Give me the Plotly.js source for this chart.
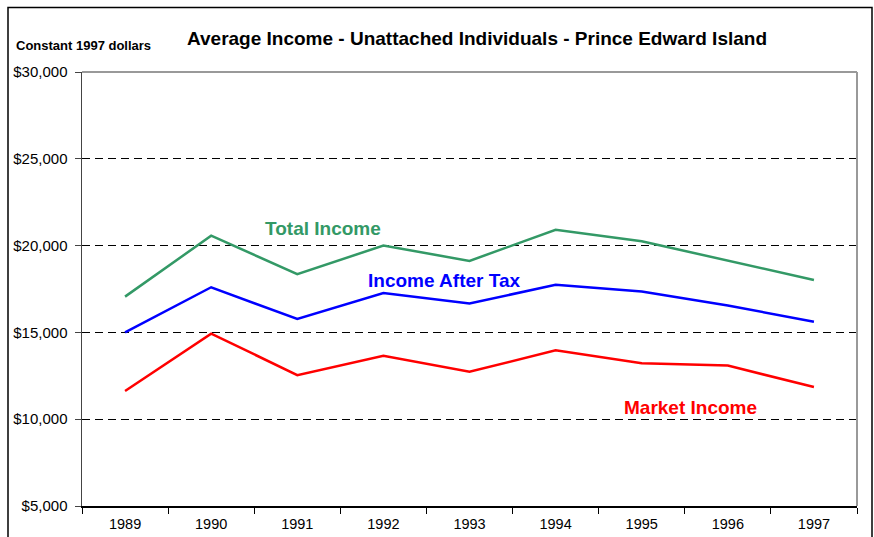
<!DOCTYPE html>
<html>
<head>
<meta charset="utf-8">
<script src="https://cdn.plot.ly/plotly-3.0.1.min.js"></script>
<style>
html,body{margin:0;padding:0;background:#fff;}
#chart{width:874px;height:537px;}
</style>
</head>
<body>
<div id="chart"></div>
<script>
const years = ["1989","1990","1991","1992","1993","1994","1995","1996","1997"];
const totalIncome = [17060, 20570, 18360, 20000, 19120, 20910, 20250, 19120, 18020];
const afterTax = [15000, 17600, 15770, 17270, 16660, 17750, 17350, 16550, 15610];
const marketIncome = [11620, 14930, 12540, 13650, 12730, 13970, 13230, 13090, 11850];
const yTicks = [5000, 10000, 15000, 20000, 25000, 30000];
const yTickText = ["$5,000", "$10,000", "$15,000", "$20,000", "$25,000", "$30,000"];

const font = "Arial, 'Liberation Sans', sans-serif";
const mk = (y, color, name) => ({
  x: years, y: y, type: "scatter", mode: "lines", name: name,
  line: {color: color, width: 2.5}, hoverinfo: "skip"
});

const data = [
  mk(totalIncome, "#339966", "Total Income"),
  mk(afterTax, "#0000FF", "Income After Tax"),
  mk(marketIncome, "#FF0000", "Market Income")
];

const layout = {
  width: 874, height: 537,
  margin: {l: 82, r: 17, t: 72, b: 31, pad: 0},
  paper_bgcolor: "#fff", plot_bgcolor: "#fff",
  showlegend: false,
  font: {family: font, color: "#000", size: 13},
  title: {
    text: "<b>Average Income - Unattached Individuals - Prince Edward Island</b>",
    font: {family: font, size: 19, color: "#000"},
    xref: "paper", x: 0.5097, xanchor: "center",
    yref: "container", y: 1 - 38/537, yanchor: "middle"
  },
  xaxis: {
    type: "category", range: [-0.5, 8.5],
    showgrid: false, zeroline: false,
    showline: true, linecolor: "#000", linewidth: 1.5,
    ticks: "outside", tickson: "boundaries", ticklen: 6, tickcolor: "#000", tickwidth: 1,
    ticklabelstandoff: 4,
    tickfont: {family: font, size: 14.5, color: "#000"},
    fixedrange: true
  },
  yaxis: {
    range: [5000, 30000],
    tickvals: yTicks, ticktext: yTickText,
    showgrid: true, gridcolor: "#000", gridwidth: 1, griddash: "8px,5px",
    zeroline: false,
    showline: true, linecolor: "#444", linewidth: 1.5,
    ticks: "outside", ticklen: 6, tickcolor: "#444", tickwidth: 1,
    ticklabelstandoff: 4,
    tickfont: {family: font, size: 15, color: "#000"},
    fixedrange: true
  },
  shapes: [
    {type: "line", xref: "paper", yref: "paper", x0: 0, x1: 1, y0: 1, y1: 1,
     line: {color: "#999", width: 2}, layer: "above"},
    {type: "line", xref: "paper", yref: "paper", x0: 1, x1: 1, y0: 0, y1: 1,
     line: {color: "#999", width: 2}, layer: "above"},
    {type: "rect", xref: "paper", yref: "paper",
     x0: (8-82)/775, x1: (872-82)/775, y0: (506-545)/434, y1: (506-7.5)/434,
     line: {color: "#000", width: 1.5}, fillcolor: "rgba(0,0,0,0)", layer: "below"}
  ],
  annotations: [
    {text: "<b>Constant 1997 dollars</b>", xref: "paper", yref: "paper",
     x: (14-82)/775, y: (506-45)/434, xanchor: "left", yanchor: "middle",
     showarrow: false, font: {family: font, size: 13, color: "#000"}},
    {text: "<b>Total Income</b>", xref: "paper", yref: "paper",
     x: (323-82)/775, y: (506-228)/434, xanchor: "center", yanchor: "middle",
     showarrow: false, font: {family: font, size: 19, color: "#339966"}},
    {text: "<b>Income After Tax</b>", xref: "paper", yref: "paper",
     x: (444-82)/775, y: (506-280)/434, xanchor: "center", yanchor: "middle",
     showarrow: false, font: {family: font, size: 19, color: "#0000FF"}},
    {text: "<b>Market Income</b>", xref: "paper", yref: "paper",
     x: (690-82)/775, y: (506-407)/434, xanchor: "center", yanchor: "middle",
     showarrow: false, font: {family: font, size: 19, color: "#FF0000"}}
  ]
};

Plotly.newPlot("chart", data, layout, {staticPlot: true, displayModeBar: false});
</script>
</body>
</html>
